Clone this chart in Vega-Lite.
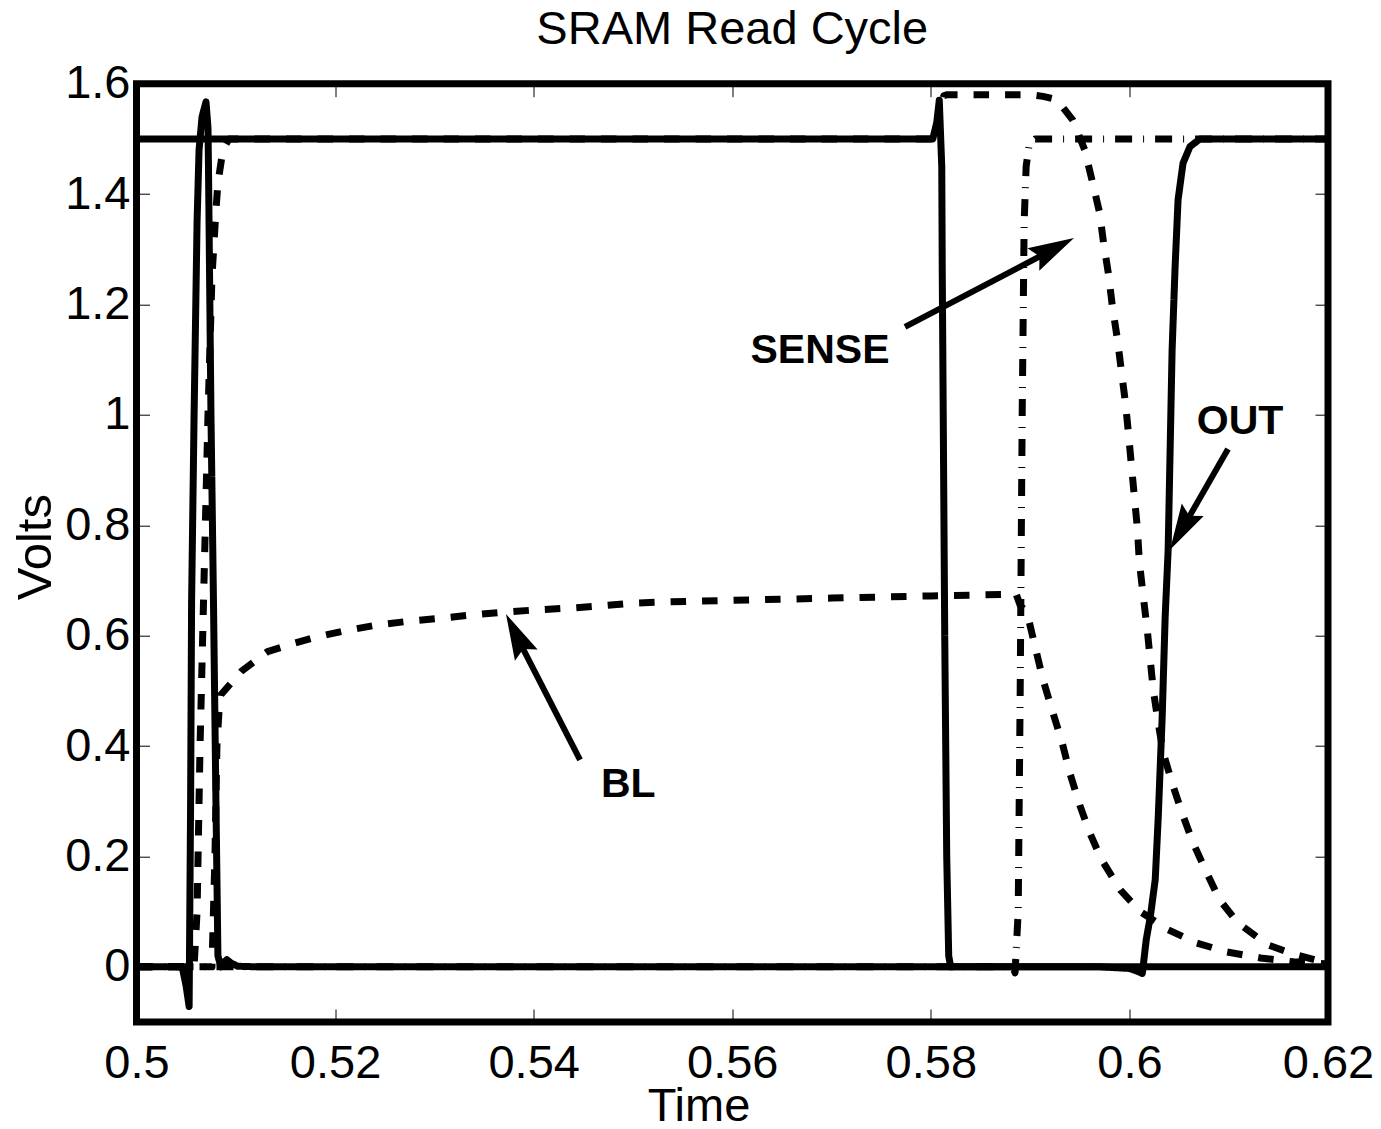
{
  "$schema": "https://vega.github.io/schema/vega-lite/v6.json",
  "width": 1191.5,
  "height": 938.3,
  "autosize": {"type": "none"},
  "padding": {"left": 136.5, "top": 83.7, "right": 53, "bottom": 107},
  "background": "white",
  "config": {"view": {"stroke": "black", "strokeWidth": 7}, "font": "Liberation Sans"},
  "title": {"text": "SRAM Read Cycle", "font": "Liberation Sans", "fontSize": 47, "fontWeight": "normal", "color": "black", "baseline": "alphabetic", "offset": -31, "anchor": "middle"},
  "datasets": {
    "traces": [
      {"s": "WL", "t": 0.5, "v": 0}, {"s": "WL", "t": 0.5046, "v": 0}, {"s": "WL", "t": 0.505, "v": -0.035}, {"s": "WL", "t": 0.5053, "v": -0.072}, {"s": "WL", "t": 0.50545, "v": 0.3}, {"s": "WL", "t": 0.50555, "v": 0.665}, {"s": "WL", "t": 0.5058, "v": 1.0}, {"s": "WL", "t": 0.5061, "v": 1.35}, {"s": "WL", "t": 0.5063, "v": 1.48}, {"s": "WL", "t": 0.5066, "v": 1.54}, {"s": "WL", "t": 0.507, "v": 1.567}, {"s": "WL", "t": 0.5072, "v": 1.52}, {"s": "WL", "t": 0.50725, "v": 1.45}, {"s": "WL", "t": 0.5075, "v": 1.0}, {"s": "WL", "t": 0.50775, "v": 0.665}, {"s": "WL", "t": 0.508, "v": 0.3}, {"s": "WL", "t": 0.5082, "v": 0.02}, {"s": "WL", "t": 0.5085, "v": 0.0}, {"s": "WL", "t": 0.5088, "v": 0.008}, {"s": "WL", "t": 0.5091, "v": 0.013}, {"s": "WL", "t": 0.5095, "v": 0.007}, {"s": "WL", "t": 0.5102, "v": 0.001}, {"s": "WL", "t": 0.512, "v": 0}, {"s": "WL", "t": 0.597, "v": 0}, {"s": "WL", "t": 0.6, "v": -0.003}, {"s": "WL", "t": 0.6008, "v": -0.008}, {"s": "WL", "t": 0.6013, "v": -0.012}, {"s": "WL", "t": 0.6017, "v": 0.05}, {"s": "WL", "t": 0.6021, "v": 0.09}, {"s": "WL", "t": 0.6026, "v": 0.158}, {"s": "WL", "t": 0.6029, "v": 0.27}, {"s": "WL", "t": 0.6033, "v": 0.453}, {"s": "WL", "t": 0.6036, "v": 0.634}, {"s": "WL", "t": 0.6039, "v": 0.755}, {"s": "WL", "t": 0.6043, "v": 1.118}, {"s": "WL", "t": 0.6046, "v": 1.268}, {"s": "WL", "t": 0.6049, "v": 1.39}, {"s": "WL", "t": 0.6054, "v": 1.456}, {"s": "WL", "t": 0.6061, "v": 1.486}, {"s": "WL", "t": 0.6071, "v": 1.5}, {"s": "WL", "t": 0.62, "v": 1.5},
      {"s": "PRE", "t": 0.5, "v": 1.5}, {"s": "PRE", "t": 0.5802, "v": 1.5}, {"s": "PRE", "t": 0.5806, "v": 1.53}, {"s": "PRE", "t": 0.58085, "v": 1.57}, {"s": "PRE", "t": 0.5811, "v": 1.45}, {"s": "PRE", "t": 0.58115, "v": 1.26}, {"s": "PRE", "t": 0.5814, "v": 0.6}, {"s": "PRE", "t": 0.5816, "v": 0.2}, {"s": "PRE", "t": 0.5818, "v": 0.02}, {"s": "PRE", "t": 0.582, "v": 0}, {"s": "PRE", "t": 0.62, "v": 0},
      {"s": "BLB", "t": 0.5, "v": 0}, {"s": "BLB", "t": 0.5058, "v": 0}, {"s": "BLB", "t": 0.5061, "v": 0.1}, {"s": "BLB", "t": 0.5064, "v": 0.4}, {"s": "BLB", "t": 0.5068, "v": 0.7}, {"s": "BLB", "t": 0.5072, "v": 1.0}, {"s": "BLB", "t": 0.5076, "v": 1.25}, {"s": "BLB", "t": 0.508, "v": 1.37}, {"s": "BLB", "t": 0.5082, "v": 1.42}, {"s": "BLB", "t": 0.5087, "v": 1.48}, {"s": "BLB", "t": 0.5093, "v": 1.5}, {"s": "BLB", "t": 0.5806, "v": 1.5}, {"s": "BLB", "t": 0.5809, "v": 1.55}, {"s": "BLB", "t": 0.5813, "v": 1.578}, {"s": "BLB", "t": 0.5816, "v": 1.58}, {"s": "BLB", "t": 0.59, "v": 1.58}, {"s": "BLB", "t": 0.5913, "v": 1.577}, {"s": "BLB", "t": 0.5927, "v": 1.571}, {"s": "BLB", "t": 0.5943, "v": 1.534}, {"s": "BLB", "t": 0.5955, "v": 1.48}, {"s": "BLB", "t": 0.5963, "v": 1.42}, {"s": "BLB", "t": 0.597, "v": 1.366}, {"s": "BLB", "t": 0.5974, "v": 1.311}, {"s": "BLB", "t": 0.5979, "v": 1.254}, {"s": "BLB", "t": 0.5983, "v": 1.194}, {"s": "BLB", "t": 0.5988, "v": 1.136}, {"s": "BLB", "t": 0.5992, "v": 1.078}, {"s": "BLB", "t": 0.5996, "v": 1.022}, {"s": "BLB", "t": 0.5999, "v": 0.967}, {"s": "BLB", "t": 0.6002, "v": 0.909}, {"s": "BLB", "t": 0.6005, "v": 0.851}, {"s": "BLB", "t": 0.6008, "v": 0.795}, {"s": "BLB", "t": 0.601, "v": 0.734}, {"s": "BLB", "t": 0.6014, "v": 0.67}, {"s": "BLB", "t": 0.6018, "v": 0.61}, {"s": "BLB", "t": 0.6021, "v": 0.556}, {"s": "BLB", "t": 0.6024, "v": 0.502}, {"s": "BLB", "t": 0.6029, "v": 0.442}, {"s": "BLB", "t": 0.6034, "v": 0.388}, {"s": "BLB", "t": 0.6043, "v": 0.333}, {"s": "BLB", "t": 0.6053, "v": 0.279}, {"s": "BLB", "t": 0.6064, "v": 0.225}, {"s": "BLB", "t": 0.6078, "v": 0.17}, {"s": "BLB", "t": 0.6091, "v": 0.121}, {"s": "BLB", "t": 0.6109, "v": 0.08}, {"s": "BLB", "t": 0.6139, "v": 0.04}, {"s": "BLB", "t": 0.6167, "v": 0.022}, {"s": "BLB", "t": 0.6195, "v": 0.009}, {"s": "BLB", "t": 0.62, "v": 0.008},
      {"s": "BL", "t": 0.5, "v": 0}, {"s": "BL", "t": 0.5076, "v": 0}, {"s": "BL", "t": 0.5079, "v": 0.2}, {"s": "BL", "t": 0.5081, "v": 0.4}, {"s": "BL", "t": 0.5083, "v": 0.46}, {"s": "BL", "t": 0.5085, "v": 0.493}, {"s": "BL", "t": 0.5106, "v": 0.536}, {"s": "BL", "t": 0.5132, "v": 0.571}, {"s": "BL", "t": 0.516, "v": 0.587}, {"s": "BL", "t": 0.5182, "v": 0.598}, {"s": "BL", "t": 0.5213, "v": 0.61}, {"s": "BL", "t": 0.5245, "v": 0.62}, {"s": "BL", "t": 0.5279, "v": 0.627}, {"s": "BL", "t": 0.5309, "v": 0.632}, {"s": "BL", "t": 0.5341, "v": 0.638}, {"s": "BL", "t": 0.5373, "v": 0.643}, {"s": "BL", "t": 0.5405, "v": 0.647}, {"s": "BL", "t": 0.5438, "v": 0.65}, {"s": "BL", "t": 0.5469, "v": 0.654}, {"s": "BL", "t": 0.5501, "v": 0.659}, {"s": "BL", "t": 0.5532, "v": 0.661}, {"s": "BL", "t": 0.56, "v": 0.664}, {"s": "BL", "t": 0.57, "v": 0.668}, {"s": "BL", "t": 0.58, "v": 0.672}, {"s": "BL", "t": 0.5886, "v": 0.675}, {"s": "BL", "t": 0.589, "v": 0.655}, {"s": "BL", "t": 0.5897, "v": 0.641}, {"s": "BL", "t": 0.5905, "v": 0.58}, {"s": "BL", "t": 0.5913, "v": 0.52}, {"s": "BL", "t": 0.5923, "v": 0.46}, {"s": "BL", "t": 0.5932, "v": 0.408}, {"s": "BL", "t": 0.594, "v": 0.351}, {"s": "BL", "t": 0.595, "v": 0.293}, {"s": "BL", "t": 0.596, "v": 0.243}, {"s": "BL", "t": 0.5972, "v": 0.194}, {"s": "BL", "t": 0.5991, "v": 0.139}, {"s": "BL", "t": 0.6011, "v": 0.1}, {"s": "BL", "t": 0.6039, "v": 0.067}, {"s": "BL", "t": 0.6068, "v": 0.043}, {"s": "BL", "t": 0.6098, "v": 0.027}, {"s": "BL", "t": 0.6132, "v": 0.016}, {"s": "BL", "t": 0.6165, "v": 0.009}, {"s": "BL", "t": 0.62, "v": 0.005},
      {"s": "SENSE", "t": 0.5, "v": 0}, {"s": "SENSE", "t": 0.5883, "v": 0}, {"s": "SENSE", "t": 0.58848, "v": -0.011}, {"s": "SENSE", "t": 0.5888, "v": 0.1}, {"s": "SENSE", "t": 0.589, "v": 0.5}, {"s": "SENSE", "t": 0.5892, "v": 1.0}, {"s": "SENSE", "t": 0.5894, "v": 1.35}, {"s": "SENSE", "t": 0.5896, "v": 1.45}, {"s": "SENSE", "t": 0.5899, "v": 1.49}, {"s": "SENSE", "t": 0.5905, "v": 1.5}, {"s": "SENSE", "t": 0.62, "v": 1.5}
    ],
    "arrows": [
      {"label": "BL", "x0": 0.54467, "y0": 0.375, "x1": 0.53852, "y1": 0.5905, "tx": 0.53721, "ty": 0.6394, "dir": -26.2},
      {"label": "SENSE", "x0": 0.5774, "y0": 1.1593, "x1": 0.59221, "y1": 1.2988, "tx": 0.59442, "ty": 1.3205, "dir": 62.1},
      {"label": "OUT", "x0": 0.60993, "y0": 0.9383, "x1": 0.60561, "y1": 0.8025, "tx": 0.60409, "ty": 0.7554, "dir": 209.6}
    ],
    "labels": [
      {"label": "SENSE", "x": 0.56884, "y": 1.0941},
      {"label": "BL", "x": 0.54953, "y": 0.3079},
      {"label": "OUT", "x": 0.61114, "y": 0.9655}
    ]
  },
  "layer": [
    {
      "data": {"name": "traces"},
      "mark": {"type": "line", "strokeWidth": 7, "color": "black", "strokeJoin": "round", "strokeCap": "butt"},
      "encoding": {
        "x": {"field": "t", "type": "quantitative", "scale": {"domain": [0.5, 0.62], "nice": false, "zero": false},
          "axis": {"orient": "bottom", "values": [0.5, 0.52, 0.54, 0.56, 0.58, 0.6, 0.62], "format": "~g", "domain": false, "grid": false, "ticks": true, "tickSize": -13, "tickWidth": 1, "tickColor": "black",
            "labelFont": "Liberation Sans", "labelFontSize": 47, "labelColor": "black", "labelBaseline": "alphabetic", "labelPadding": 68, "labelFlush": false, "labelOverlap": false,
            "title": "Time", "titleFont": "Liberation Sans", "titleFontSize": 47, "titleFontWeight": "normal", "titleColor": "black", "titleX": 562, "titleY": 98, "titleBaseline": "alphabetic", "titleAlign": "center"}},
        "y": {"field": "v", "type": "quantitative", "scale": {"domain": [-0.1, 1.6], "nice": false, "zero": false},
          "axis": {"orient": "left", "values": [0, 0.2, 0.4, 0.6, 0.8, 1, 1.2, 1.4, 1.6], "format": "~g", "domain": false, "grid": false, "ticks": true, "tickSize": -13, "tickWidth": 1, "tickColor": "black",
            "labelFont": "Liberation Sans", "labelFontSize": 47, "labelColor": "black", "labelPadding": 19.5, "labelFlush": false, "labelOverlap": false,
            "title": "Volts", "titleFont": "Liberation Sans", "titleFontSize": 49, "titleFontWeight": "normal", "titleColor": "black", "titleX": -86, "titleY": 463, "titleBaseline": "alphabetic", "titleAlign": "center", "titleAngle": -90}},
        "strokeDash": {"field": "s", "type": "nominal", "scale": {"domain": ["WL", "PRE", "BLB", "BL", "SENSE"], "range": [[1, 0], [1, 0], [15.5, 16], [15.5, 16], [17, 11, 1, 11]]}, "legend": null}
      }
    },
    {
      "data": {"name": "arrows"},
      "mark": {"type": "point", "shape": "M0,0 L-0.55,2 L0,1.7 L0.55,2 Z", "size": 2116, "filled": true, "color": "black", "opacity": 1, "strokeWidth": 0},
      "encoding": {
        "x": {"field": "tx", "type": "quantitative", "scale": {"domain": [0.5, 0.62], "nice": false, "zero": false},
          "axis": {"orient": "top", "values": [0.5, 0.52, 0.54, 0.56, 0.58, 0.6, 0.62], "labels": false, "domain": false, "grid": false, "ticks": true, "tickSize": -13, "tickWidth": 1, "tickColor": "black", "title": null}},
        "y": {"field": "ty", "type": "quantitative", "scale": {"domain": [-0.1, 1.6], "nice": false, "zero": false},
          "axis": {"orient": "right", "values": [0, 0.2, 0.4, 0.6, 0.8, 1, 1.2, 1.4, 1.6], "labels": false, "domain": false, "grid": false, "ticks": true, "tickSize": -13, "tickWidth": 1, "tickColor": "black", "title": null}},
        "angle": {"field": "dir", "type": "quantitative", "scale": null}
      }
    },
    {
      "data": {"name": "arrows"},
      "mark": {"type": "rule", "strokeWidth": 6, "color": "black", "strokeCap": "butt"},
      "encoding": {
        "x": {"field": "x0", "type": "quantitative", "scale": {"domain": [0.5, 0.62], "nice": false, "zero": false}, "axis": null},
        "y": {"field": "y0", "type": "quantitative", "scale": {"domain": [-0.1, 1.6], "nice": false, "zero": false}, "axis": null},
        "x2": {"field": "x1"},
        "y2": {"field": "y1"}
      }
    },
    {
      "data": {"name": "labels"},
      "mark": {"type": "text", "font": "Liberation Sans", "fontSize": 41, "fontWeight": "bold", "color": "black", "align": "center", "baseline": "alphabetic"},
      "encoding": {
        "x": {"field": "x", "type": "quantitative", "scale": {"domain": [0.5, 0.62], "nice": false, "zero": false}, "axis": null},
        "y": {"field": "y", "type": "quantitative", "scale": {"domain": [-0.1, 1.6], "nice": false, "zero": false}, "axis": null},
        "text": {"field": "label"}
      }
    }
  ],
  "resolve": {"axis": {"x": "independent", "y": "independent"}}
}
